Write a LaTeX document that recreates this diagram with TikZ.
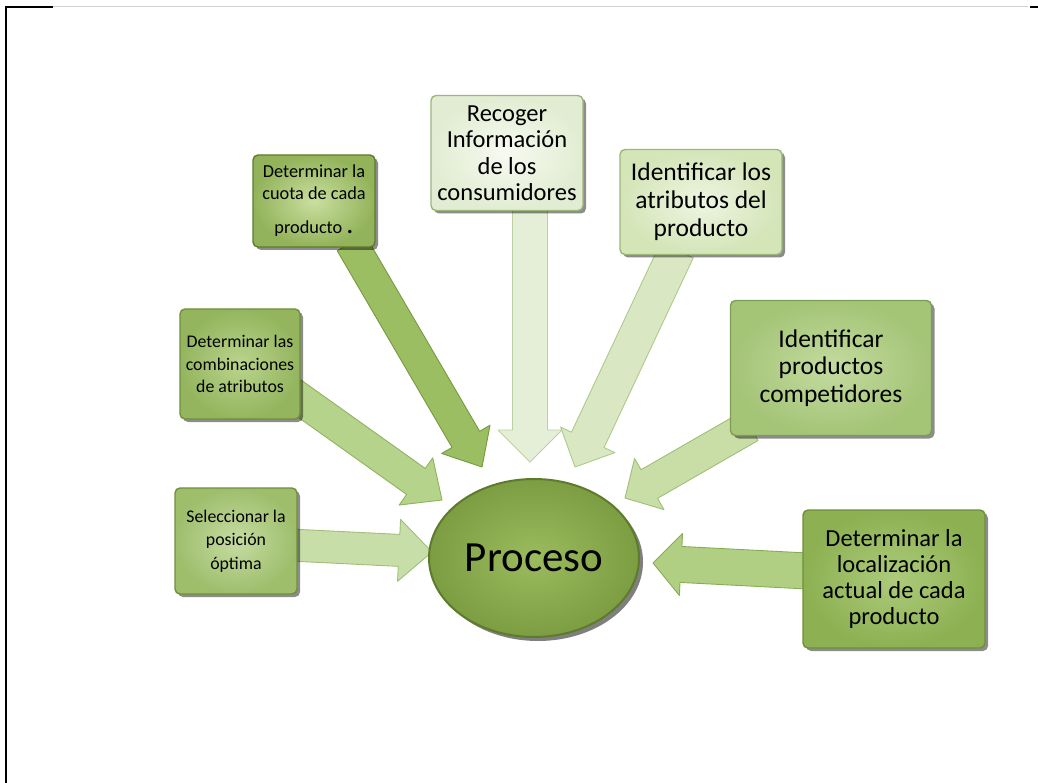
\documentclass[tikz,border=0pt]{standalone}
\usepackage{fontspec}
\setmainfont{Carlito}
\usetikzlibrary{shapes.geometric,shadows,calc}
\pgfdeclarelayer{background}
\pgfsetlayers{background,main}

% palette
\definecolor{ring}{HTML}{5E7B2C}
\definecolor{ringlight}{HTML}{9DB67A}
\definecolor{ringmid}{HTML}{7E9D52}
\definecolor{ringdark}{HTML}{6F8F3A}
\definecolor{procin}{HTML}{9BBB5E}
\definecolor{procout}{HTML}{7C9D42}
\definecolor{cuotain}{HTML}{C9DF9F}
\definecolor{cuotaout}{HTML}{93B35A}
\definecolor{infoin}{HTML}{F7FAF1}
\definecolor{infoout}{HTML}{E2ECD2}
\definecolor{attrin}{HTML}{EEF5E2}
\definecolor{attrout}{HTML}{D4E5B8}
\definecolor{compin}{HTML}{C4DBA0}
\definecolor{compout}{HTML}{A4C476}
\definecolor{locin}{HTML}{ADCB7B}
\definecolor{locout}{HTML}{8DB052}
\definecolor{combin}{HTML}{BAD48D}
\definecolor{combout}{HTML}{94B55E}
\definecolor{selin}{HTML}{C6DCA2}
\definecolor{selout}{HTML}{9EBE6C}
% arrow fills and edges
\definecolor{aAf}{HTML}{9CBE62}\definecolor{aAd}{HTML}{769A3E}
\definecolor{aBf}{HTML}{B6D38C}\definecolor{aBd}{HTML}{8FB35E}
\definecolor{aCf}{HTML}{C8DEA8}\definecolor{aCd}{HTML}{9FBF7A}
\definecolor{aDf}{HTML}{E5EFD7}\definecolor{aDd}{HTML}{BCD0A0}
\definecolor{aEf}{HTML}{D9E8C2}\definecolor{aEd}{HTML}{AFC98C}
\definecolor{aFf}{HTML}{C9DEA7}\definecolor{aFd}{HTML}{9FBF78}
\definecolor{aGf}{HTML}{B1CF83}\definecolor{aGd}{HTML}{88AC55}

\tikzset{
  panel/.style n args={3}{rectangle, rounded corners=5pt, draw=#3, line width=1.4pt,
    inner color=#1, outer color=#2, align=center, inner sep=2pt,
    drop shadow={shadow xshift=3pt, shadow yshift=-3pt, fill=black, opacity=0.45}},
  fs/.style 2 args={font={\fontsize{#1}{#2}\selectfont}},
  barrow/.style 2 args={fill=#1, draw=#2, line width=0.9pt, line join=round},
}

% block arrow: start, tip, half shaft, half head, head length, style
\newcommand\blockarrow[6]{%
  \path (#2) coordinate (ba-t) ($(#2)!#5!(#1)$) coordinate (ba-h);
  \draw[#6] ($(#1)!#3!90:(#2)$) -- ($(ba-h)!#3!-90:(#1)$) -- ($(ba-h)!#4!-90:(#1)$)
    -- (ba-t) -- ($(ba-h)!#4!90:(#1)$) -- ($(ba-h)!#3!90:(#1)$)
    -- ($(#1)!#3!-90:(#2)$) -- cycle;
}

\begin{document}
\begin{tikzpicture}[x=1pt, y=-1pt]
\useasboundingbox (0,0) rectangle (1038,783);

% page frame
\draw[line width=2pt] (6,7) -- (6,783);
\draw[line width=2pt] (5,7) -- (53,7);
\draw[black!18, line width=1pt] (53,7) -- (1028,7);
\draw[line width=2.5pt] (1030,7) -- (1038,7);

% central process
\node[ellipse, minimum width=210pt, minimum height=158pt, draw=ring, line width=2pt,
      inner color=procin, outer color=procout, fs={43}{46},
      drop shadow={shadow xshift=4pt, shadow yshift=-4pt, fill=black, opacity=0.5}]
  (proc) at (534,558) {Proceso};

% surrounding steps
\node[panel={cuotain}{cuotaout}{ring}, minimum width=122pt, minimum height=92pt,
      fs={18.3}{22}] (cuota) at (314,201)
  {\raisebox{-4pt}{\begin{tabular}{@{}c@{}}Determinar la\\cuota de cada\\[12pt]producto {\fontsize{28}{22}\selectfont .}\end{tabular}}};
\node[panel={infoin}{infoout}{ringlight}, minimum width=152pt, minimum height=115pt,
      fs={24.5}{26.5}] (info) at (507,153)
  {Recoger\\Información\\de los\\consumidores};
\node[panel={attrin}{attrout}{ringlight}, minimum width=162pt, minimum height=105pt,
      fs={25.5}{28}] (attr) at (701,202)
  {Identificar los\\atributos del\\producto};
\node[panel={compin}{compout}{ringmid}, minimum width=201pt, minimum height=135pt,
      fs={25.5}{27.5}] (comp) at (831,368)
  {Identificar\\productos\\competidores};
\node[panel={locin}{locout}{ringdark}, minimum width=182pt, minimum height=138pt,
      fs={24.5}{26}] (loc) at (894,579)
  {Determinar la\\localización\\actual de cada\\producto};
\node[panel={combin}{combout}{ringdark}, minimum width=120pt, minimum height=110pt,
      fs={17.8}{22.5}] (comb) at (240,364)
  {Determinar las\\combinaciones\\de atributos};
\node[panel={selin}{selout}{ringdark}, minimum width=122pt, minimum height=106pt,
      fs={17.8}{23.5}] (sel) at (236,541)
  {Seleccionar la\\posición\\óptima};

% arrow tips near the process
\coordinate (tA) at (482,467);
\coordinate (tB) at (442,500);
\coordinate (tC) at (432,552);
\coordinate (tD) at (530,462);
\coordinate (tE) at (575,467);
\coordinate (tF) at (625,498);
\coordinate (tG) at (653,563);

\begin{pgfonlayer}{background}
  \blockarrow{$(cuota.south)+(37,-5)$}{tA}{16pt}{28pt}{32pt}{barrow={aAf}{aAd}}
  \blockarrow{$(comb.east)+(-9,29)$}{tB}{16pt}{29pt}{32pt}{barrow={aBf}{aBd}}
  \blockarrow{$(sel.east)+(-8,4)$}{tC}{16pt}{31pt}{33pt}{barrow={aCf}{aCd}}
  \blockarrow{$(info.south)+(23,-5)$}{tD}{17.5pt}{32pt}{32pt}{barrow={aDf}{aDd}}
  \blockarrow{$(attr.south)+(-24,-5)$}{tE}{18pt}{30pt}{30pt}{barrow={aEf}{aEd}}
  \blockarrow{$(comp.south west)+(20,-10)$}{tF}{16.5pt}{29.5pt}{28pt}{barrow={aFf}{aFd}}
  \blockarrow{$(loc.west)+(5,-8)$}{tG}{18pt}{31pt}{28pt}{barrow={aGf}{aGd}}
\end{pgfonlayer}
\end{tikzpicture}
\end{document}
